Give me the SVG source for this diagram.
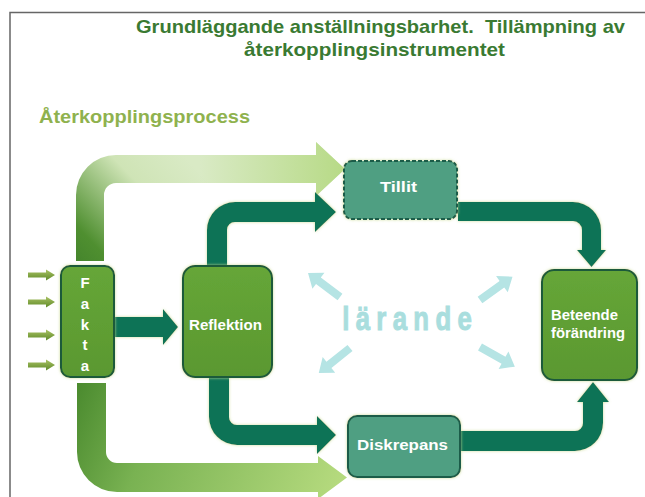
<svg xmlns="http://www.w3.org/2000/svg" width="645" height="497" viewBox="0 0 645 497">
  <defs>
    <style>
      .title { font-family: "Liberation Sans", Arial, sans-serif; font-weight: bold; font-size: 18.5px; fill: #3a7a32; white-space: pre; }
      .sub { font-family: "Liberation Sans", Arial, sans-serif; font-weight: bold; font-size: 19px; fill: #8fb24e; }
      .lbl { font-family: "Liberation Sans", Arial, sans-serif; font-weight: bold; font-size: 14.5px; fill: #ffffff; }
      .fk { font-family: "Liberation Sans", Arial, sans-serif; font-weight: bold; font-size: 15px; fill: #ffffff; text-anchor: middle; }
      .green { fill: url(#gNode); stroke: #1f5a3a; stroke-width: 2; filter: url(#glow); }
      .teal { fill: #4f9f82; stroke: #1f5c48; stroke-width: 2; filter: url(#glow); }
      .dark { fill: #0b7357; filter: url(#glow); }
      .cyan { fill: #b5e4e4; }
      .inarrow { fill: url(#gIn); }
    </style>
    <filter id="glow" x="-20%" y="-20%" width="140%" height="140%">
      <feDropShadow dx="0" dy="0" stdDeviation="1.5" flood-color="#c9d98f" flood-opacity="0.9"/>
    </filter>
    <linearGradient id="gNode" x1="0" y1="0" x2="0" y2="1">
      <stop offset="0" stop-color="#66a638"/>
      <stop offset="1" stop-color="#5a9830"/>
    </linearGradient>
    <linearGradient id="gIn" x1="0" y1="0" x2="0" y2="1">
      <stop offset="0" stop-color="#a9c264"/>
      <stop offset="1" stop-color="#5f8a28"/>
    </linearGradient>
    <linearGradient id="gTop" gradientUnits="userSpaceOnUse" x1="60" y1="265" x2="200" y2="130">
      <stop offset="0" stop-color="#3f7f2a"/>
      <stop offset="0.2" stop-color="#4f8f30"/>
      <stop offset="0.58" stop-color="#cfe4b6"/>
      <stop offset="0.85" stop-color="#d9eac5"/>
      <stop offset="1" stop-color="#d9eac5"/>
    </linearGradient>
    <linearGradient id="gTopHead" gradientUnits="userSpaceOnUse" x1="200" y1="0" x2="345" y2="0">
      <stop offset="0" stop-color="#b7da86" stop-opacity="0"/>
      <stop offset="1" stop-color="#b7da86" stop-opacity="1"/>
    </linearGradient>
    <linearGradient id="gBot" gradientUnits="userSpaceOnUse" x1="77" y1="382" x2="347" y2="492">
      <stop offset="0" stop-color="#4a8a2e"/>
      <stop offset="0.3" stop-color="#79b252"/>
      <stop offset="1" stop-color="#b8dc80"/>
    </linearGradient>
  </defs>

  <!-- frame -->
  <path d="M10,497 L10,12.5 L645,12.5" fill="none" stroke="#666666" stroke-width="1.5"/>

  <!-- titles -->
  <text class="title" x="136" y="33" textLength="489" lengthAdjust="spacingAndGlyphs">Grundläggande anställningsbarhet.  Tillämpning av</text>
  <text class="title" x="244" y="56" textLength="261" lengthAdjust="spacingAndGlyphs">återkopplingsinstrumentet</text>
  <text class="sub" x="39" y="123" textLength="211" lengthAdjust="spacingAndGlyphs">Återkopplingsprocess</text>

  <g id="connectors">
    <!-- Fakta -> Tillit (light) -->
    <path d="M76,261 L76,195 A40,40 0 0 1 116,155 L316,155 L316,142 L345,169 L316,196 L316,183 L116,183 A12,12 0 0 0 104,195 L104,261 Z" fill="url(#gTop)"/>
    <path d="M76,261 L76,195 A40,40 0 0 1 116,155 L316,155 L316,142 L345,169 L316,196 L316,183 L116,183 A12,12 0 0 0 104,195 L104,261 Z" fill="url(#gTopHead)"/>
    <!-- Fakta -> Diskrepans (light) -->
    <path d="M77,383 L77,452 A40,40 0 0 0 117,492 L318,492 L318,499 L347,477.5 L318,456 L318,463 L117,463 A11,11 0 0 1 106,452 L106,383 Z" fill="url(#gBot)"/>
    <!-- Reflektion -> Tillit -->
    <path class="dark" d="M207,268 L207,230 A28,28 0 0 1 235,202 L315,202 L315,192 L336,212 L315,232 L315,222 L235,222 A8,8 0 0 0 227,230 L227,268 Z"/>
    <!-- Reflektion -> Diskrepans -->
    <path class="dark" d="M209,375 L209,417 A28,28 0 0 0 237,445 L317,445 L317,454 L336,435 L317,416 L317,425 L237,425 A8,8 0 0 1 229,417 L229,375 Z"/>
    <!-- Fakta -> Reflektion -->
    <path class="dark" d="M114,317 L163,317 L163,309 L178,327 L163,345 L163,337 L114,337 Z"/>
    <!-- Tillit -> Beteende -->
    <path class="dark" d="M458,202 L573,202 A28,28 0 0 1 601,230 L601,250 L606,250 L591.5,267 L577,250 L582,250 L582,230 A9,9 0 0 0 573,221 L458,221 Z"/>
    <!-- Diskrepans -> Beteende -->
    <path class="dark" d="M460,431 L575,431 A8,8 0 0 0 583,423 L583,402 L577,402 L593,382 L609,402 L603,402 L603,423 A28,28 0 0 1 575,451 L460,451 Z"/>
    <!-- input arrows -->
    <path class="inarrow" d="M28,272.5 L46,272.5 L46,269.5 L55,275 L46,280.5 L46,277.5 L28,277.5 Z"/>
    <path class="inarrow" d="M28,299.5 L46,299.5 L46,296.5 L55,302 L46,307.5 L46,304.5 L28,304.5 Z"/>
    <path class="inarrow" d="M28,332.5 L46,332.5 L46,329.5 L55,335 L46,340.5 L46,337.5 L28,337.5 Z"/>
    <path class="inarrow" d="M28,362.5 L46,362.5 L46,359.5 L55,365 L46,370.5 L46,367.5 L28,367.5 Z"/>
    <!-- lärande arrows -->
    <path class="cyan" transform="translate(340,297) rotate(216.9)" d="M0,-4 L27,-4 L27,-10 L40,0 L27,10 L27,4 L0,4 Z"/>
    <path class="cyan" transform="translate(480,300) rotate(-35.7)" d="M0,-4 L27,-4 L27,-10 L40,0 L27,10 L27,4 L0,4 Z"/>
    <path class="cyan" transform="translate(350,348) rotate(141.3)" d="M0,-4 L27,-4 L27,-10 L40,0 L27,10 L27,4 L0,4 Z"/>
    <path class="cyan" transform="translate(480,347) rotate(29.4)" d="M0,-4 L27,-4 L27,-10 L40,0 L27,10 L27,4 L0,4 Z"/>
  </g>

  <g id="fakta">
    <rect class="green" x="61" y="266" width="53" height="111" rx="9"/>
    <text class="fk" x="85" y="288">F</text>
    <text class="fk" x="85" y="309">a</text>
    <text class="fk" x="85" y="330">k</text>
    <text class="fk" x="85" y="350">t</text>
    <text class="fk" x="85" y="371">a</text>
  </g>

  <g id="reflektion">
    <rect class="green" x="183" y="266" width="89" height="111" rx="12"/>
    <text class="lbl" x="189" y="330" textLength="73" lengthAdjust="spacingAndGlyphs">Reflektion</text>
  </g>

  <g id="tillit">
    <rect class="teal" x="344" y="161" width="113" height="58" rx="8" stroke-dasharray="4 2"/>
    <text class="lbl" x="380" y="192" textLength="37" lengthAdjust="spacingAndGlyphs" style="font-size:15.5px">Tillit</text>
  </g>

  <g id="diskrepans">
    <rect class="teal" x="348" y="416" width="112" height="61" rx="9"/>
    <text class="lbl" x="357" y="450" textLength="91" lengthAdjust="spacingAndGlyphs" style="font-size:15.5px">Diskrepans</text>
  </g>

  <g id="beteende">
    <rect class="green" x="542" y="270" width="95" height="110" rx="12"/>
    <text class="lbl" x="551" y="320" textLength="67" lengthAdjust="spacingAndGlyphs">Beteende</text>
    <text class="lbl" x="551" y="338" textLength="74" lengthAdjust="spacingAndGlyphs">förändring</text>
  </g>

  <g id="larande">
    <text transform="translate(407,330) scale(0.78,1)" x="0" y="0" text-anchor="middle" textLength="166" lengthAdjust="spacing" font-family="'Liberation Sans', Arial, sans-serif" font-weight="bold" font-size="33" fill="#a9dede" stroke="#a9dede" stroke-width="1">lärande</text>
  </g>
</svg>
